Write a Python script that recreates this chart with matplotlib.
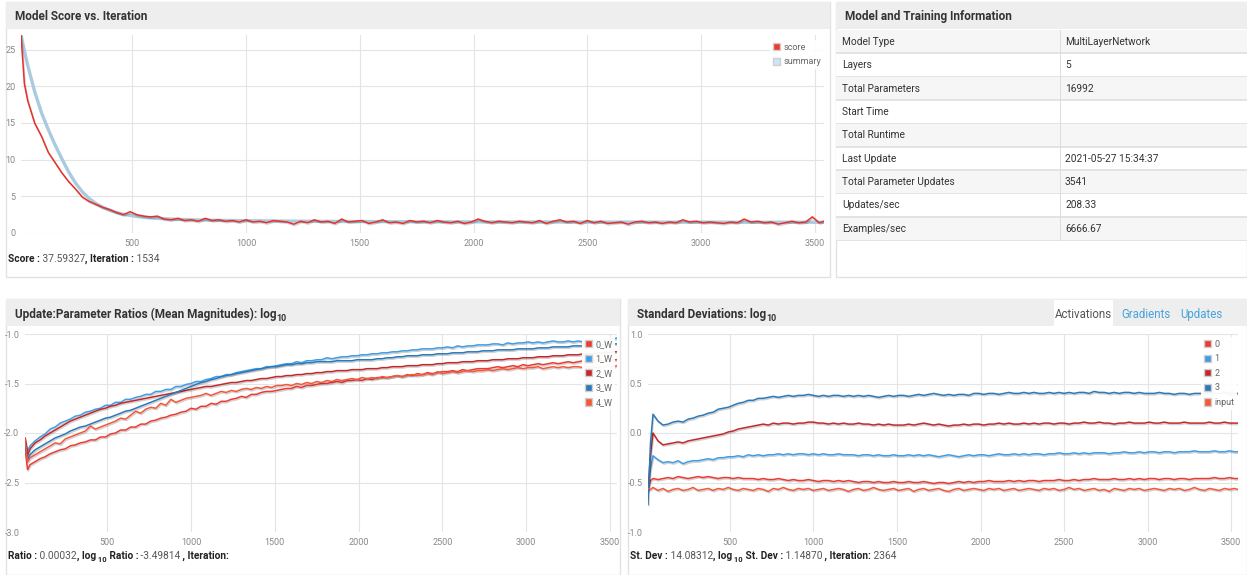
import matplotlib
matplotlib.use("Agg")
import matplotlib.pyplot as plt
import matplotlib.patheffects as pe
from matplotlib.patches import Rectangle, Patch
import numpy as np

plt.rcParams['font.family'] = ['Roboto', 'DejaVu Sans']
plt.rcParams['axes.unicode_minus'] = False

# ---------------- DATA ----------------
ITER = [10, 25] + list(range(40, 3521, 30)) + [3541]

SCORE = [27.0, 20.3,
         18.0, 15.0, 13.2, 11.0, 9.6, 8.2, 7.0, 6.0, 4.9, 4.3,
         3.9, 3.5, 3.2, 2.8, 2.5, 2.9, 2.5, 2.3, 2.2, 2.3,
         1.9, 1.8, 2.0, 1.7, 1.8, 1.6, 2.0, 1.7, 1.8, 1.6,
         1.7, 1.5, 1.8, 1.5, 1.6, 1.4, 1.7, 1.6, 1.5, 1.2,
         1.6, 1.4, 1.8, 1.5, 1.6, 1.3, 1.9, 1.5, 1.6, 1.7,
         1.3, 1.5, 1.8, 1.4, 1.5, 1.3, 1.7, 1.5, 1.6, 1.4,
         1.7, 1.5, 1.4, 1.6, 1.3, 1.5, 1.9, 1.6, 1.4, 1.6,
         1.5, 1.4, 1.6, 1.5, 1.4, 1.7, 1.3, 1.6, 1.8, 1.5,
         1.6, 1.3, 1.7, 1.4, 1.6, 1.3, 1.4, 1.5, 1.2, 1.5,
         1.6, 1.4, 1.5, 1.3, 1.5, 1.4, 1.8, 1.5, 1.6, 1.4,
         1.5, 1.4, 1.3, 1.5, 1.4, 1.9, 1.5, 1.6, 1.4, 1.5,
         1.2, 1.4, 1.6, 1.4, 1.5, 2.2, 1.4,
         1.6]

SUMMARY = [27.0, 24.8,
           22.8, 19.3, 16.4, 14.1, 12.0, 10.1, 8.3, 6.8, 5.6, 4.7,
           4.0, 3.5, 3.1, 2.8, 2.55, 2.4, 2.25, 2.15, 2.05, 2.0,
           1.95, 1.9, 1.86, 1.83, 1.8, 1.78, 1.76, 1.74, 1.72, 1.71,
           1.7, 1.69, 1.68, 1.67, 1.66, 1.65, 1.64, 1.63, 1.62, 1.61,
           1.6, 1.6, 1.59, 1.59, 1.58, 1.58, 1.57, 1.57, 1.56, 1.56,
           1.56, 1.55, 1.55, 1.55, 1.54, 1.54, 1.54, 1.53, 1.53, 1.53,
           1.53, 1.52, 1.52, 1.52, 1.52, 1.52, 1.52, 1.51, 1.51, 1.51,
           1.51, 1.51, 1.51, 1.50, 1.50, 1.50, 1.50, 1.50, 1.50, 1.50,
           1.50, 1.50, 1.49, 1.49, 1.49, 1.49, 1.49, 1.49, 1.49, 1.49,
           1.49, 1.49, 1.48, 1.48, 1.48, 1.48, 1.48, 1.48, 1.48, 1.48,
           1.48, 1.48, 1.48, 1.47, 1.47, 1.47, 1.47, 1.47, 1.47, 1.47,
           1.47, 1.47, 1.47, 1.47, 1.47, 1.47, 1.47,
           1.47]

RATIO_LABELS = ["0_W", "1_W", "2_W", "3_W", "4_W"]
RATIO_0W = [-2.15, -2.37,
            -2.32, -2.29, -2.26, -2.24, -2.21, -2.19, -2.17, -2.16, -2.13, -2.12,
            -2.10, -2.09, -2.07, -2.07, -2.04, -2.04, -2.01, -2.00, -1.97, -1.97,
            -1.94, -1.94, -1.91, -1.91, -1.88, -1.87, -1.85, -1.84, -1.82, -1.81,
            -1.79, -1.78, -1.75, -1.76, -1.73, -1.73, -1.70, -1.71, -1.68, -1.68,
            -1.66, -1.65, -1.63, -1.64, -1.61, -1.61, -1.59, -1.58, -1.58, -1.57,
            -1.56, -1.55, -1.55, -1.53, -1.54, -1.52, -1.52, -1.51, -1.50, -1.50,
            -1.49, -1.48, -1.49, -1.47, -1.47, -1.46, -1.47, -1.45, -1.46, -1.44,
            -1.44, -1.44, -1.43, -1.42, -1.43, -1.41, -1.42, -1.40, -1.41, -1.39,
            -1.40, -1.39, -1.38, -1.38, -1.37, -1.38, -1.36, -1.37, -1.36, -1.35,
            -1.35, -1.35, -1.34, -1.33, -1.34, -1.33, -1.32, -1.33, -1.31, -1.32,
            -1.31, -1.30, -1.31, -1.30, -1.29, -1.30, -1.29, -1.28, -1.29, -1.28,
            -1.27, -1.28, -1.27, -1.26, -1.27, -1.27, -1.26,
            -1.26]
RATIO_1W = [-2.07, -2.18,
            -2.13, -2.08, -2.04, -2.01, -1.96, -1.94, -1.90, -1.88, -1.86, -1.83,
            -1.82, -1.79, -1.78, -1.76, -1.75, -1.72, -1.72, -1.69, -1.69, -1.66,
            -1.66, -1.64, -1.63, -1.61, -1.61, -1.58, -1.58, -1.56, -1.56, -1.53,
            -1.53, -1.51, -1.50, -1.48, -1.48, -1.46, -1.45, -1.43, -1.43, -1.41,
            -1.41, -1.39, -1.38, -1.37, -1.36, -1.35, -1.35, -1.33, -1.33, -1.32,
            -1.31, -1.30, -1.30, -1.28, -1.29, -1.27, -1.27, -1.26, -1.26, -1.24,
            -1.25, -1.24, -1.23, -1.23, -1.22, -1.22, -1.21, -1.21, -1.20, -1.20,
            -1.19, -1.19, -1.18, -1.18, -1.17, -1.17, -1.16, -1.16, -1.15, -1.15,
            -1.15, -1.14, -1.14, -1.13, -1.14, -1.12, -1.13, -1.12, -1.12, -1.11,
            -1.11, -1.11, -1.10, -1.10, -1.11, -1.09, -1.10, -1.09, -1.09, -1.08,
            -1.09, -1.08, -1.09, -1.08, -1.07, -1.08, -1.08, -1.07, -1.08, -1.07,
            -1.08, -1.06, -1.07, -1.06, -1.06, -1.05, -1.05,
            -1.04]
RATIO_2W = [-2.05, -2.23,
            -2.16, -2.10, -2.07, -2.03, -2.00, -1.97, -1.94, -1.91, -1.88, -1.86,
            -1.84, -1.82, -1.80, -1.78, -1.76, -1.75, -1.73, -1.72, -1.70, -1.69,
            -1.68, -1.67, -1.66, -1.65, -1.64, -1.63, -1.62, -1.61, -1.60, -1.59,
            -1.58, -1.57, -1.56, -1.55, -1.54, -1.53, -1.53, -1.52, -1.51, -1.50,
            -1.49, -1.49, -1.48, -1.47, -1.47, -1.46, -1.45, -1.45, -1.44, -1.43,
            -1.43, -1.42, -1.42, -1.41, -1.41, -1.40, -1.40, -1.39, -1.39, -1.38,
            -1.38, -1.37, -1.37, -1.37, -1.36, -1.36, -1.36, -1.35, -1.35, -1.35,
            -1.34, -1.34, -1.33, -1.33, -1.33, -1.32, -1.32, -1.32, -1.31, -1.31,
            -1.31, -1.30, -1.30, -1.29, -1.29, -1.29, -1.28, -1.28, -1.28, -1.27,
            -1.27, -1.27, -1.26, -1.26, -1.26, -1.25, -1.25, -1.25, -1.24, -1.24,
            -1.24, -1.23, -1.23, -1.23, -1.22, -1.22, -1.22, -1.21, -1.21, -1.21,
            -1.20, -1.20, -1.20, -1.19, -1.19, -1.19, -1.18,
            -1.18]
RATIO_3W = [-2.10, -2.27,
            -2.22, -2.17, -2.14, -2.11, -2.08, -2.05, -2.03, -2.01, -1.98, -1.96,
            -1.94, -1.93, -1.91, -1.89, -1.87, -1.85, -1.84, -1.82, -1.80, -1.78,
            -1.77, -1.75, -1.73, -1.71, -1.69, -1.67, -1.65, -1.63, -1.61, -1.59,
            -1.57, -1.55, -1.53, -1.51, -1.49, -1.48, -1.46, -1.45, -1.43, -1.42,
            -1.41, -1.40, -1.39, -1.38, -1.37, -1.36, -1.35, -1.34, -1.33, -1.33,
            -1.32, -1.31, -1.31, -1.30, -1.30, -1.29, -1.29, -1.28, -1.28, -1.28,
            -1.28, -1.27, -1.27, -1.27, -1.27, -1.26, -1.26, -1.26, -1.26, -1.25,
            -1.25, -1.24, -1.24, -1.23, -1.23, -1.22, -1.22, -1.22, -1.21, -1.21,
            -1.21, -1.20, -1.20, -1.20, -1.19, -1.19, -1.19, -1.18, -1.18, -1.18,
            -1.17, -1.17, -1.17, -1.16, -1.16, -1.16, -1.16, -1.15, -1.15, -1.15,
            -1.15, -1.14, -1.14, -1.14, -1.13, -1.13, -1.13, -1.13, -1.12, -1.12,
            -1.12, -1.12, -1.11, -1.11, -1.11, -1.10, -1.10,
            -1.10]
RATIO_4W = [-2.05, -2.29,
            -2.25, -2.22, -2.19, -2.16, -2.13, -2.10, -2.11, -2.06, -2.04, -2.02,
            -2.00, -1.98, -1.93, -1.96, -1.94, -1.92, -1.90, -1.88, -1.85, -1.86,
            -1.82, -1.78, -1.80, -1.76, -1.74, -1.75, -1.70, -1.72, -1.66, -1.69,
            -1.67, -1.65, -1.64, -1.63, -1.62, -1.60, -1.62, -1.60, -1.58, -1.59,
            -1.57, -1.58, -1.56, -1.55, -1.56, -1.54, -1.55, -1.53, -1.54, -1.52,
            -1.52, -1.51, -1.52, -1.50, -1.51, -1.49, -1.50, -1.48, -1.49, -1.47,
            -1.48, -1.46, -1.47, -1.46, -1.45, -1.46, -1.44, -1.45, -1.44, -1.45,
            -1.43, -1.44, -1.43, -1.42, -1.43, -1.42, -1.41, -1.42, -1.41, -1.40,
            -1.41, -1.38, -1.40, -1.39, -1.38, -1.39, -1.38, -1.37, -1.38, -1.37,
            -1.37, -1.36, -1.37, -1.36, -1.35, -1.36, -1.35, -1.34, -1.35, -1.34,
            -1.34, -1.33, -1.35, -1.34, -1.33, -1.34, -1.33, -1.34, -1.33, -1.33,
            -1.34, -1.33, -1.33, -1.34, -1.33, -1.32, -1.33,
            -1.32]

STD_LABELS = ["0", "1", "2", "3", "input"]
STD_0 = [-0.56, -0.48,
         -0.46, -0.47, -0.46, -0.45, -0.46, -0.44, -0.45, -0.46, -0.45, -0.44,
         -0.45, -0.44, -0.45, -0.46, -0.45, -0.45, -0.46, -0.45, -0.46, -0.46,
         -0.46, -0.47, -0.46, -0.47, -0.47, -0.46, -0.47, -0.48, -0.47, -0.48,
         -0.48, -0.47, -0.48, -0.49, -0.48, -0.48, -0.49, -0.48, -0.49, -0.48,
         -0.49, -0.50, -0.49, -0.49, -0.50, -0.49, -0.50, -0.50, -0.49, -0.50,
         -0.50, -0.49, -0.50, -0.50, -0.49, -0.50, -0.51, -0.50, -0.50, -0.51,
         -0.50, -0.49, -0.50, -0.49, -0.50, -0.49, -0.49, -0.48, -0.49, -0.49,
         -0.49, -0.48, -0.49, -0.48, -0.49, -0.48, -0.48, -0.49, -0.48, -0.48,
         -0.48, -0.47, -0.48, -0.48, -0.47, -0.48, -0.47, -0.47, -0.46, -0.47,
         -0.47, -0.47, -0.46, -0.47, -0.47, -0.46, -0.47, -0.46, -0.47, -0.46,
         -0.46, -0.47, -0.46, -0.46, -0.47, -0.46, -0.46, -0.47, -0.46, -0.46,
         -0.46, -0.46, -0.45, -0.46, -0.46, -0.45, -0.46,
         -0.46]
STD_1 = [-0.58, -0.36,
         -0.23, -0.27, -0.30, -0.29, -0.30, -0.28, -0.31, -0.29, -0.28, -0.28,
         -0.27, -0.26, -0.27, -0.25, -0.25, -0.24, -0.24, -0.23, -0.24, -0.22,
         -0.23, -0.22, -0.23, -0.22, -0.22, -0.21, -0.22, -0.21, -0.22, -0.21,
         -0.21, -0.22, -0.21, -0.22, -0.21, -0.22, -0.22, -0.21, -0.22, -0.22,
         -0.22, -0.23, -0.22, -0.22, -0.23, -0.22, -0.23, -0.23, -0.22, -0.23,
         -0.23, -0.22, -0.23, -0.22, -0.23, -0.22, -0.23, -0.24, -0.23, -0.22,
         -0.23, -0.24, -0.23, -0.22, -0.23, -0.22, -0.22, -0.23, -0.22, -0.21,
         -0.22, -0.22, -0.21, -0.22, -0.21, -0.22, -0.21, -0.21, -0.22, -0.21,
         -0.21, -0.20, -0.21, -0.21, -0.20, -0.21, -0.20, -0.21, -0.20, -0.20,
         -0.20, -0.21, -0.20, -0.20, -0.19, -0.20, -0.20, -0.19, -0.20, -0.19,
         -0.19, -0.20, -0.19, -0.19, -0.20, -0.19, -0.19, -0.19, -0.18, -0.19,
         -0.19, -0.19, -0.18, -0.19, -0.19, -0.18, -0.19,
         -0.19]
STD_2 = [-0.58, -0.22,
         0.00, -0.08, -0.12, -0.11, -0.10, -0.09, -0.10, -0.08, -0.07, -0.06,
         -0.05, -0.04, -0.03, -0.02, -0.01, 0.01, 0.02, 0.04, 0.05, 0.06,
         0.07, 0.08, 0.09, 0.08, 0.10, 0.09, 0.10, 0.10, 0.09, 0.10,
         0.10, 0.11, 0.11, 0.10, 0.10, 0.09, 0.10, 0.09, 0.10, 0.09,
         0.09, 0.10, 0.09, 0.09, 0.08, 0.09, 0.08, 0.09, 0.08, 0.08,
         0.08, 0.09, 0.08, 0.09, 0.10, 0.09, 0.08, 0.09, 0.08, 0.07,
         0.08, 0.08, 0.09, 0.08, 0.09, 0.09, 0.08, 0.09, 0.09, 0.10,
         0.09, 0.10, 0.09, 0.09, 0.10, 0.09, 0.10, 0.09, 0.10, 0.10,
         0.09, 0.10, 0.10, 0.09, 0.10, 0.10, 0.11, 0.10, 0.10, 0.11,
         0.10, 0.10, 0.09, 0.10, 0.10, 0.11, 0.10, 0.10, 0.10, 0.11,
         0.10, 0.10, 0.11, 0.10, 0.10, 0.10, 0.11, 0.10, 0.10, 0.10,
         0.10, 0.11, 0.10, 0.10, 0.11, 0.10, 0.10,
         0.10]
STD_3 = [-0.72, -0.10,
         0.19, 0.12, 0.08, 0.09, 0.11, 0.12, 0.11, 0.14, 0.15, 0.17,
         0.18, 0.20, 0.21, 0.24, 0.25, 0.26, 0.28, 0.30, 0.31, 0.33,
         0.33, 0.35, 0.35, 0.36, 0.37, 0.36, 0.37, 0.38, 0.37, 0.38,
         0.38, 0.39, 0.38, 0.37, 0.38, 0.37, 0.38, 0.38, 0.37, 0.38,
         0.37, 0.38, 0.37, 0.38, 0.37, 0.36, 0.37, 0.38, 0.37, 0.38,
         0.38, 0.37, 0.38, 0.39, 0.38, 0.39, 0.40, 0.39, 0.38, 0.39,
         0.38, 0.39, 0.39, 0.38, 0.40, 0.40, 0.39, 0.40, 0.40, 0.39,
         0.40, 0.41, 0.40, 0.40, 0.41, 0.40, 0.41, 0.40, 0.40, 0.41,
         0.40, 0.41, 0.40, 0.41, 0.40, 0.41, 0.41, 0.40, 0.42, 0.41,
         0.41, 0.40, 0.41, 0.40, 0.41, 0.41, 0.40, 0.41, 0.40, 0.40,
         0.40, 0.41, 0.40, 0.40, 0.39, 0.40, 0.40, 0.39, 0.40, 0.40,
         0.40, 0.41, 0.40, 0.40, 0.41, 0.40, 0.40,
         0.40]
STD_IN = [-0.56, -0.57,
          -0.55, -0.58, -0.56, -0.59, -0.57, -0.56, -0.58, -0.57, -0.55, -0.58,
          -0.57, -0.56, -0.58, -0.56, -0.57, -0.55, -0.57, -0.58, -0.56, -0.57,
          -0.58, -0.56, -0.57, -0.59, -0.56, -0.57, -0.55, -0.57, -0.58, -0.56,
          -0.57, -0.56, -0.58, -0.57, -0.56, -0.58, -0.57, -0.56, -0.57, -0.59,
          -0.57, -0.56, -0.58, -0.57, -0.55, -0.57, -0.58, -0.57, -0.56, -0.58,
          -0.57, -0.56, -0.59, -0.57, -0.56, -0.58, -0.57, -0.56, -0.58, -0.59,
          -0.57, -0.56, -0.58, -0.57, -0.56, -0.57, -0.58, -0.56, -0.57, -0.56,
          -0.58, -0.57, -0.56, -0.58, -0.57, -0.56, -0.57, -0.58, -0.56, -0.57,
          -0.56, -0.58, -0.57, -0.55, -0.57, -0.56, -0.58, -0.57, -0.56, -0.58,
          -0.57, -0.59, -0.56, -0.57, -0.58, -0.56, -0.57, -0.56, -0.58, -0.57,
          -0.56, -0.57, -0.58, -0.56, -0.57, -0.56, -0.58, -0.57, -0.55, -0.57,
          -0.58, -0.56, -0.57, -0.58, -0.56, -0.57, -0.56,
          -0.57]

INFO_KEYS = ["Model Type", "Layers", "Total Parameters", "Start Time", "Total Runtime",
             "Last Update", "Total Parameter Updates", "Updates/sec", "Examples/sec"]
INFO_VALUES = ["MultiLayerNetwork", "5", "16992", "", "", "2021-05-27 15:34:37",
               "3541", "208.33", "6666.67"]

SCORE_TICKS = [0, 5, 10, 15, 20, 25]
RATIO_TICKS = [-3.0, -2.5, -2.0, -1.5, -1.0]
STD_TICKS = [-1.0, -0.5, 0.0, 0.5, 1.0]
X_TICKS = [500, 1000, 1500, 2000, 2500, 3000, 3500]

# ---------------- STYLE ----------------
C_RED = '#ec3b33'
C_LBLUE = '#3f9de6'
C_DRED = '#c4282a'
C_DBLUE = '#2a79b9'
C_ORANGE = '#f4583c'
SERIES_COLORS = [C_RED, C_LBLUE, C_DRED, C_DBLUE, C_ORANGE]
GRID = '#e4e4e4'
HEAD_BG = '#eeeeee'
BORDER = '#e2e2e2'
TXT = '#333333'

W, H = 1247, 575
fig = plt.figure(figsize=(W / 100, H / 100), dpi=100)
fig.patch.set_facecolor('white')


def rect(x0, y0, x1, y1, z=-10, **kw):
    r = Rectangle((x0 / W, 1 - y1 / H), (x1 - x0) / W, (y1 - y0) / H,
                  transform=fig.transFigure, zorder=z, **kw)
    fig.patches.append(r)


def axes_px(x0, y0, x1, y1):
    return fig.add_axes([x0 / W, 1 - y1 / H, (x1 - x0) / W, (y1 - y0) / H])


renderer = fig.canvas.get_renderer()


def rich(x, y, parts, size):
    cx = x
    for s, weight, color, sub in parts:
        fs = size * 0.75 if sub else size
        yy = y + (3 if sub else 0)
        t = fig.text(cx / W, 1 - yy / H, s, fontsize=fs, fontweight=weight, color=color,
                     ha='left', va='baseline')
        cx += t.get_window_extent(renderer).width
    return cx


def style_axes(ax):
    for s in ax.spines.values():
        s.set_visible(False)
    ax.set_facecolor('none')
    ax.grid(True, color=GRID, lw=0.8)
    ax.set_axisbelow(True)
    ax.tick_params(length=0, labelsize=6.5, labelcolor='#888888', pad=4)


def legend_px(ax, colors, labels, x, y):
    leg = ax.legend(handles=[Patch(facecolor=c, edgecolor='#cfcfcf', label=l)
                             for c, l in zip(colors, labels)],
                    loc='upper left', bbox_to_anchor=(x / W, 1 - y / H),
                    bbox_transform=fig.transFigure, frameon=True, fancybox=False,
                    facecolor='white', edgecolor='none', framealpha=0.95, fontsize=6.5,
                    handlelength=0.85, handleheight=0.85, handletextpad=0.35,
                    labelspacing=0.62, borderpad=0.3, borderaxespad=0, labelcolor='#666666')
    leg.set_zorder(5)
    return leg


shadow = [pe.SimpleLineShadow(offset=(0.6, -1.0), shadow_color='#000000', alpha=0.18),
          pe.Normal()]

# ---------------- PANELS ----------------
for (x0, y0, x1, y1) in [(6, 2, 830, 277), (836, 2, 1247, 277),
                         (6, 299, 620, 575), (628, 299, 1247, 575)]:
    rect(x0, y0, x1, y1, z=-10, facecolor='white', edgecolor=BORDER, lw=1)
    rect(x0, y0, x1, y0 + 27, z=-9, facecolor=HEAD_BG, edgecolor='none')

# titles
rich(15, 20, [("Model Score vs. Iteration", 'bold', TXT, False)], 8.5)
rich(845, 20, [("Model and Training Information", 'bold', TXT, False)], 8.5)
rich(15, 318, [("Update:Parameter Ratios (Mean Magnitudes): log", 'bold', TXT, False),
               ("10", 'bold', TXT, True)], 8.5)
rich(637, 318, [("Standard Deviations: log", 'bold', TXT, False),
                ("10", 'bold', TXT, True)], 8.5)

# tabs
rect(1054, 300, 1113, 327, z=-8, facecolor='white', edgecolor='none')
fig.text(1083.5 / W, 1 - 315 / H, "Activations", fontsize=8.3, color='#555555',
         ha='center', va='center')
fig.text(1121 / W, 1 - 315 / H, "Gradients", fontsize=8.3, color='#46a3dc',
         ha='left', va='center')
fig.text(1180 / W, 1 - 315 / H, "Updates", fontsize=8.3, color='#46a3dc',
         ha='left', va='center')

# ---------------- TABLE ----------------
row_h = 23.4
for k, (key, val) in enumerate(zip(INFO_KEYS, INFO_VALUES)):
    y0 = 30 + k * row_h
    rect(836, y0, 1247, y0 + row_h, z=-8, facecolor='#f6f6f6' if k % 2 == 0 else 'white',
         edgecolor='none')
    rect(836, y0 + row_h - 1, 1247, y0 + row_h + 0.5, z=-7, facecolor='#e3e3e3', edgecolor='none')
    fig.text(842 / W, 1 - (y0 + row_h / 2) / H, key, fontsize=7.3, color=TXT,
             ha='left', va='center')
    fig.text(1065 / W, 1 - (y0 + row_h / 2) / H, val, fontsize=7.3, color=TXT,
             ha='left', va='center')
rect(1059.5, 30, 1060.5, 30 + 9 * row_h, z=-6, facecolor='#dddddd', edgecolor='none')

# ---------------- SCORE CHART ----------------
ax1 = axes_px(21, 35, 824, 233)
style_axes(ax1)
ax1.plot(ITER, SUMMARY, color='#a9cbe0', lw=2.4, solid_capstyle='round', zorder=2)
ax1.plot(ITER, SCORE, color='#e8302a', lw=1.1, zorder=3, path_effects=shadow)
ax1.set_xlim(10, 3541)
ax1.set_ylim(0, 27)
ax1.set_xticks(X_TICKS)
ax1.set_yticks(SCORE_TICKS)
legend_px(ax1, [C_RED, '#cde6f7'], ['score', 'summary'], 770, 40)

rich(8, 262, [("Score :", 'bold', '#222222', False), (" 37.59327", 'normal', '#555555', False),
              (", Iteration :", 'bold', '#222222', False), (" 1534", 'normal', '#555555', False)], 7.3)

# ---------------- RATIO CHART ----------------
ax2 = axes_px(25, 334, 617, 532)
style_axes(ax2)
for series, c in zip([RATIO_0W, RATIO_1W, RATIO_2W, RATIO_3W, RATIO_4W], SERIES_COLORS):
    ax2.plot(ITER, series, color=c, lw=1.1, zorder=3, path_effects=shadow)
ax2.set_xlim(10, 3541)
ax2.set_ylim(-3.0, -1.0)
ax2.set_xticks(X_TICKS)
ax2.set_yticks(RATIO_TICKS)
ax2.set_yticklabels([f"{v:.1f}" for v in RATIO_TICKS])
legend_px(ax2, SERIES_COLORS, RATIO_LABELS, 582, 337)

rich(8, 559, [("Ratio :", 'bold', '#222222', False), (" 0.00032", 'normal', '#555555', False),
              (", log", 'bold', '#222222', False), (" 10", 'bold', '#222222', True),
              (" Ratio :", 'bold', '#222222', False), (" -3.49814", 'normal', '#555555', False),
              (" , Iteration:", 'bold', '#222222', False)], 7.3)

# ---------------- STD CHART ----------------
ax3 = axes_px(648, 334, 1238, 532)
style_axes(ax3)
for series, c in zip([STD_0, STD_1, STD_2, STD_3, STD_IN], SERIES_COLORS):
    ax3.plot(ITER, series, color=c, lw=1.1, zorder=3, path_effects=shadow)
ax3.set_xlim(10, 3541)
ax3.set_ylim(-1.0, 1.0)
ax3.set_xticks(X_TICKS)
ax3.set_yticks(STD_TICKS)
ax3.set_yticklabels([f"{v:.1f}" for v in STD_TICKS])
legend_px(ax3, SERIES_COLORS, STD_LABELS, 1201, 337)

rich(630, 559, [("St. Dev :", 'bold', '#222222', False), (" 14.08312", 'normal', '#555555', False),
                (", log", 'bold', '#222222', False), (" 10", 'bold', '#222222', True),
                (" St. Dev :", 'bold', '#222222', False), (" 1.14870", 'normal', '#555555', False),
                (" , Iteration:", 'bold', '#222222', False), (" 2364", 'normal', '#555555', False)], 7.3)

fig.savefig("out.png", dpi=100, facecolor='white')
